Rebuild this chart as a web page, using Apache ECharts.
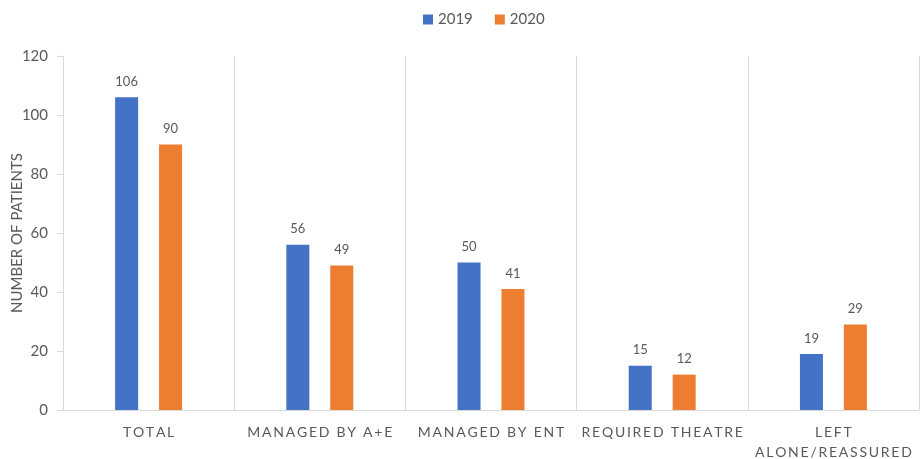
<!DOCTYPE html>
<html>
<head>
<meta charset="utf-8">
<script src="https://cdn.jsdelivr.net/npm/echarts@6/dist/echarts.min.js"></script>
<style>
  html, body { margin: 0; padding: 0; background: #fff; }
  #main { width: 921px; height: 459px; }
</style>
</head>
<body>
<div id="main"></div>
<script>
// categories and values
var categories = ['TOTAL', 'MANAGED BY A+E', 'MANAGED BY ENT', 'REQUIRED THEATRE', 'LEFT\nALONE/REASSURED'];
var values2019 = [106, 56, 50, 15, 19];
var values2020 = [90, 49, 41, 12, 29];

var chart = echarts.init(document.getElementById('main'));
var font = 'Lato, "Open Sans", sans-serif';
var grey = '#595959';

// the category labels are letter-spaced in the original
function spaced(s) {
    return s.split('\n').map(function (line) {
        return line.split('').join('\u2009');
    }).join('\n');
}

var option = {
    backgroundColor: '#fff',
    textStyle: { fontFamily: font },
    color: ['#4472C4', '#ED7D31'],
    legend: {
        top: 7,
        left: 418,
        itemWidth: 10,
        itemHeight: 10,
        itemGap: 22,
        icon: 'rect',
        textStyle: { color: grey, fontSize: 15, fontFamily: font },
        data: ['2019', '2020']
    },
    grid: {
        left: 63,
        right: 2,
        top: 56,
        bottom: 49,
        outerBoundsMode: 'none'
    },
    xAxis: {
        type: 'category',
        data: categories,
        axisLine: { lineStyle: { color: '#d9d9d9', width: 1 } },
        axisTick: { show: false },
        splitLine: { show: true, lineStyle: { color: '#d9d9d9', width: 1 } },
        axisLabel: {
            color: grey,
            fontSize: 14,
            margin: 12,
            lineHeight: 20,
            fontFamily: font,
            interval: 0,
            formatter: spaced
        }
    },
    yAxis: {
        type: 'value',
        min: 0,
        max: 120,
        interval: 20,
        name: 'NUMBER OF PATIENTS',
        nameLocation: 'middle',
        nameGap: 38,
        nameMoveOverlap: false,
        nameTextStyle: { color: grey, fontSize: 15, fontFamily: font },
        axisLine: { show: true, lineStyle: { color: '#d9d9d9' } },
        axisTick: { show: true, length: 6, lineStyle: { color: '#d9d9d9' } },
        splitLine: { show: false },
        axisLabel: { color: grey, fontSize: 15, margin: 15, fontFamily: font }
    },
    series: [{
        name: '2019',
        type: 'bar',
        barWidth: 23,
        barGap: '91%',
        data: values2019,
        label: { show: true, position: 'top', distance: 9, color: grey, fontSize: 13, fontFamily: font }
    }, {
        name: '2020',
        type: 'bar',
        barWidth: 23,
        data: values2020,
        label: { show: true, position: 'top', distance: 9, color: grey, fontSize: 13, fontFamily: font }
    }]
};

chart.setOption(option);
</script>
</body>
</html>
